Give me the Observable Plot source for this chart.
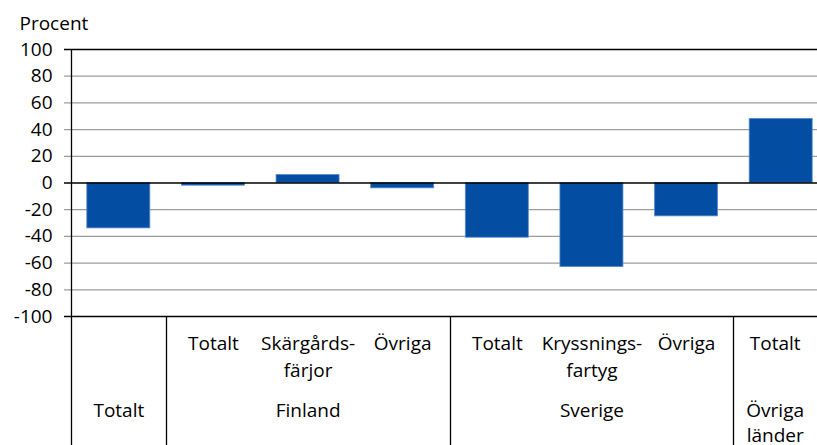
<!DOCTYPE html>
<html><head><meta charset="utf-8">
<script src="https://cdn.jsdelivr.net/npm/d3@7"></script>
<script src="https://cdn.jsdelivr.net/npm/@observablehq/plot@0.6"></script>
<style>html,body{margin:0;padding:0;overflow:hidden;background:#fff}</style>
</head><body><div id="chart"></div>
<script>
const keys = ["tot","fi-tot","fi-ska","fi-ovr","se-tot","se-kry","se-ovr","ol-tot"];
const subLabels = ["", "Totalt", "Skärgårds-\nfärjor", "Övriga", "Totalt", "Kryssnings-\nfartyg", "Övriga", "Totalt"];
const groupLabels = ["Totalt","Finland","Sverige","Övriga\nländer"];
const groupCenterKeys = ["tot","fi-ska","se-kry","ol-tot"];
const groupStartKeys = ["tot","fi-tot","se-tot","ol-tot"];
const values = [-34, -2, 6, -4, -41, -63, -25, 48];
const yTicks = [-100, -80, -60, -40, -20, 0, 20, 40, 60, 80, 100];
const blackTicks = [-100, 0, 100];
const grayTicks = [-80, -60, -40, -20, 20, 40, 60, 80];
const yTitle = "Procent";

const data = keys.map((k, i) => ({key: k, value: values[i]}));
const lastKey = keys[keys.length - 1];

function dividers(index, scales, vals, dimensions) {
  const x = scales.x, y = scales.y;
  const step = x.step(), bw = x.bandwidth();
  const off = (step - bw) / 2;
  const g = d3.create("svg:g").attr("stroke", "#000").attr("stroke-width", 1.3);
  groupStartKeys.forEach((k, i) => {
    const px = Math.round(x(k) - off) + 0.5;
    g.append("line")
      .attr("x1", px).attr("x2", px)
      .attr("y1", i === 0 ? y(100) : y(-100))
      .attr("y2", dimensions.height);
  });
  return g.node();
}

const subIdx = keys.map((k, i) => i);
const grpIdx = groupCenterKeys.map((k, i) => i);
const common = {frameAnchor: "bottom", lineAnchor: "top", fontSize: 19, fill: "#000"};

const chart = Plot.plot({
  width: 817,
  height: 445,
  marginLeft: 71,
  marginRight: -11,
  marginTop: 49,
  marginBottom: 129,
  style: {fontFamily: "'Open Sans', sans-serif", fontSize: "19px", color: "#000", background: "#fff"},
  x: {domain: keys, paddingInner: 0.334, paddingOuter: 0.167, round: false, axis: null},
  y: {domain: [-100, 100], axis: null},
  marks: [
    Plot.ruleY(grayTicks, {stroke: "#9c9c9c", strokeWidth: 1.2, insetLeft: -7}),
    Plot.barY(data, {x: "key", y: "value", fill: "#034ea2", stroke: "#5a8ccf", strokeWidth: 0.8}),
    Plot.ruleY(blackTicks, {stroke: "#000", strokeWidth: 1.3, insetLeft: -7}),
    dividers,
    Plot.axisY(yTicks, {tickSize: 0, tickPadding: 19, fontSize: 19, label: null, fill: "#000", tickFormat: d => String(d)}),
    Plot.text([yTitle], {frameAnchor: "top-left", dx: -52, dy: -26, textAnchor: "start", lineAnchor: "middle", fontSize: 19, fill: "#000"}),
    Plot.text(subIdx.filter(i => keys[i] !== lastKey), {...common, x: i => keys[i], text: i => subLabels[i], dy: 14, lineHeight: 1.42}),
    Plot.text(subIdx.filter(i => keys[i] === lastKey), {...common, x: i => keys[i], text: i => subLabels[i], dy: 14, dx: -6, lineHeight: 1.42}),
    Plot.text(grpIdx.filter(i => groupCenterKeys[i] !== lastKey), {...common, x: i => groupCenterKeys[i], text: i => groupLabels[i], dy: 83, lineHeight: 1.32}),
    Plot.text(grpIdx.filter(i => groupCenterKeys[i] === lastKey), {...common, x: i => groupCenterKeys[i], text: i => groupLabels[i], dy: 83, dx: -6, lineHeight: 1.3})
  ]
});
document.getElementById("chart").appendChild(chart);
</script>
</body></html>
